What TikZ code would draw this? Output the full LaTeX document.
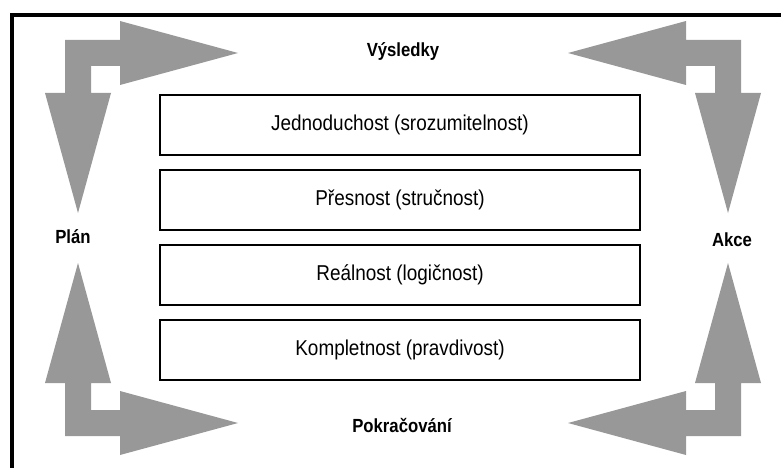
\documentclass[tikz,border=0pt]{standalone}
\usepackage{fontspec}
\setmainfont{Liberation Sans}
\newfontfamily\narrowfont[FakeStretch=0.88]{Liberation Sans}
\usepackage{xcolor}
\definecolor{arrowgray}{RGB}{152,152,152}

% one bent double arrow, outer corner at the origin
\newcommand{\drawbentarrow}{%
  \fill[arrowgray] (0,0) -- (55,0) -- (55,-19) -- (173,13) -- (55,45) -- (55,26)
    -- (26,26) -- (26,53) -- (46,53) -- (13,173) -- (-20,53) -- (0,53) -- cycle;}

\begin{document}
\begin{tikzpicture}[x=1pt, y=-1pt,
    crit/.style={rectangle, draw, line width=1.6pt, minimum width=480pt, minimum height=60pt, font=\narrowfont\fontsize{21.5}{24}\selectfont},
    phase/.style={anchor=base, font=\narrowfont\bfseries\fontsize{19}{22}\selectfont}]

    \useasboundingbox (0,0) rectangle (781,468);

    % frame
    \draw[line width=3.5pt] (12,468) -- (12,15) -- (781,15);

    % corner arrows
    \begin{scope}[shift={(65,40)}]
        \drawbentarrow
    \end{scope}
    \begin{scope}[shift={(741,40)}, xscale=-1]
        \drawbentarrow
    \end{scope}
    \begin{scope}[shift={(65,436)}, yscale=-1]
        \drawbentarrow
    \end{scope}
    \begin{scope}[shift={(741,436)}, xscale=-1, yscale=-1]
        \drawbentarrow
    \end{scope}

    \node[phase] (vysledky) at (403,57) {Výsledky};
    \node[phase] (pokracovani) at (402,432) {Pokračování};
    \node[phase] (plan) at (73,243) {Plán};
    \node[phase] (akce) at (732,246) {Akce};

    \node[crit] (jednoduchost) at (400,125) {Jednoduchost (srozumitelnost)};
    \node[crit] (presnost) at (400,200) {Přesnost (stručnost)};
    \node[crit] (realnost) at (400,275) {Reálnost (logičnost)};
    \node[crit] (kompletnost) at (400,350) {Kompletnost (pravdivost)};
\end{tikzpicture}
\end{document}
